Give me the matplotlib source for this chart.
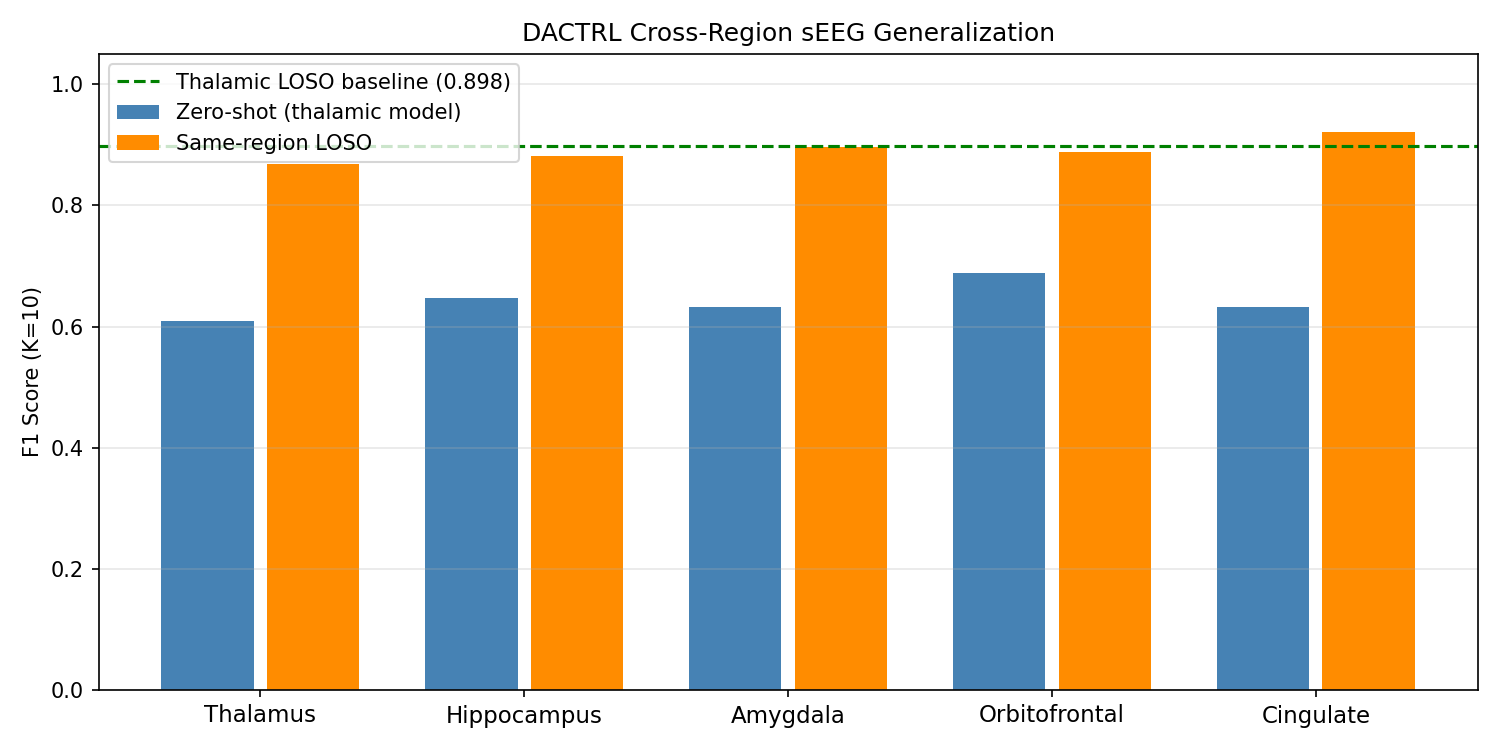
import numpy as np
import matplotlib
matplotlib.use('Agg')
import matplotlib.pyplot as plt

regiones = ['Thalamus', 'Hippocampus', 'Amygdala', 'Orbitofrontal', 'Cingulate']
zero_shot = [0.609, 0.647, 0.632, 0.689, 0.632]
same_region = [0.869, 0.881, 0.897, 0.889, 0.922]
baseline = 0.898

x = np.arange(len(regiones))
ancho = 0.35

fig, ax = plt.subplots(figsize=(10, 5), dpi=150)
ax.bar(x - 0.2, zero_shot, ancho, color='steelblue', label='Zero-shot (thalamic model)')
ax.bar(x + 0.2, same_region, ancho, color='darkorange', label='Same-region LOSO')
ax.axhline(baseline, color='green', linestyle='--', label=f'Thalamic LOSO baseline ({baseline:.3f})')

ax.set_xticks(x)
ax.set_xticklabels(regiones, fontsize=11)
ax.set_ylabel('F1 Score (K=10)')
ax.set_title('DACTRL Cross-Region sEEG Generalization')
ax.set_ylim(0, 1.05)
ax.grid(axis='y', alpha=0.3)
ax.legend(loc='upper left')

plt.tight_layout()
plt.savefig('out.png')
